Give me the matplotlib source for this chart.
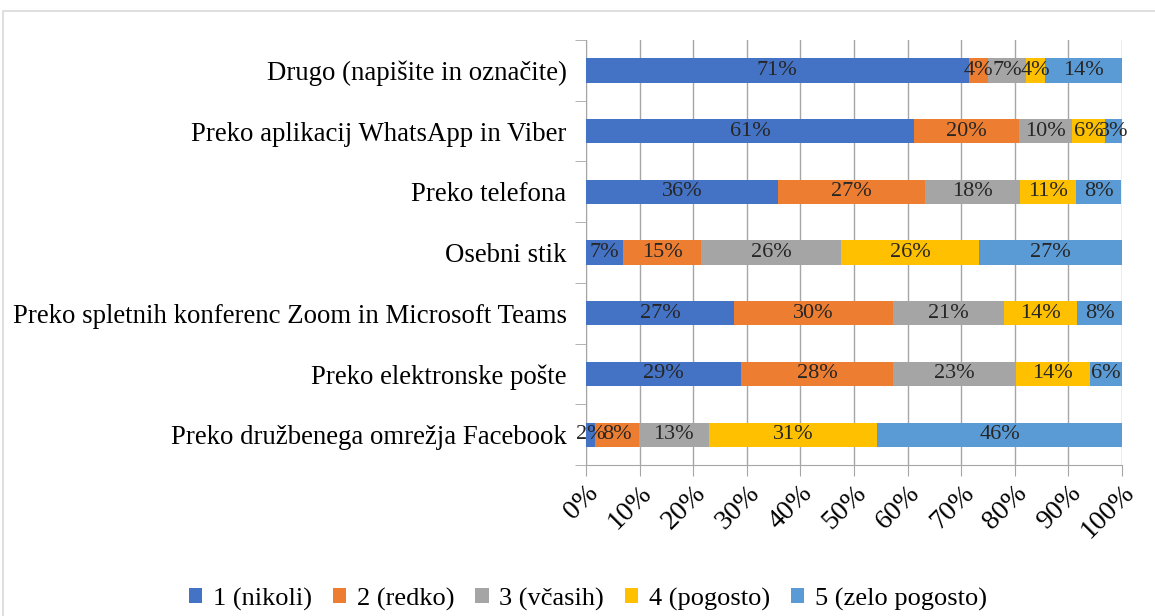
import numpy as np
import matplotlib
matplotlib.use("Agg")
import matplotlib.pyplot as plt
from matplotlib.patches import Rectangle

# categories from bottom to top
categories = [
    "Preko družbenega omrežja Facebook",
    "Preko elektronske pošte",
    "Preko spletnih konferenc Zoom in Microsoft Teams",
    "Osebni stik",
    "Preko telefona",
    "Preko aplikacij WhatsApp in Viber",
    "Drugo (napišite in označite)",
]
series = ["1 (nikoli)", "2 (redko)", "3 (včasih)", "4 (pogosto)", "5 (zelo pogosto)"]

# shares in %
nikoli = [1.7, 28.9, 27.6, 6.9, 35.8, 61.2, 71.4]
redko = [8.2, 28.4, 29.7, 14.6, 27.4, 19.6, 3.6]
vcasih = [13.0, 22.9, 20.7, 26.1, 17.7, 9.9, 7.1]
pogosto = [31.4, 13.8, 13.6, 25.8, 10.6, 6.1, 3.6]
zelo = [45.7, 6.0, 8.4, 26.6, 8.4, 3.2, 14.3]
labels = [
    ["2%", "29%", "27%", "7%", "36%", "61%", "71%"],
    ["8%", "28%", "30%", "15%", "27%", "20%", "4%"],
    ["13%", "23%", "21%", "26%", "18%", "10%", "7%"],
    ["31%", "14%", "14%", "26%", "11%", "6%", "4%"],
    ["46%", "6%", "8%", "27%", "8%", "3%", "14%"],
]
colors = ["#4472C4", "#ED7D31", "#A5A5A5", "#FFC000", "#5B9BD5"]

serif = "Liberation Serif"
grid_col = "#A6A6A6"

fig = plt.figure(figsize=(11.55, 6.16), dpi=100)
fig.patches.append(Rectangle((3 / 1155, -0.1), 1.2, 1 - 11 / 616 + 0.1, transform=fig.transFigure,
                             fill=False, edgecolor="#D9D9D9", lw=1.2))
ax = fig.add_axes([586 / 1155, 1 - 465 / 616, 536 / 1155, 425 / 616])

y = np.arange(len(categories))
left = np.zeros(len(categories))
for vals, name, col, labs in zip([nikoli, redko, vcasih, pogosto, zelo], series, colors, labels):
    vals = np.array(vals)
    bars = ax.barh(y, vals, left=left, height=0.4, color=col, label=name, zorder=3)
    for b, t in zip(bars, labs):
        ax.text(b.get_x() + b.get_width() / 2, b.get_y() + b.get_height() / 2, t,
                ha="center", va="center", fontsize=16, family=serif, color="#262626", zorder=4)
    left += vals

ax.set_xlim(0, 100)
ax.set_ylim(-0.5, len(categories) - 0.5)
ax.set_xticks(np.arange(0, 101, 10))
ax.set_xticklabels([f"{v}%" for v in range(0, 101, 10)], rotation=45, ha="right",
                   rotation_mode="anchor", family=serif, fontsize=20)
ax.set_yticks(y)
ax.set_yticklabels(categories, family=serif, fontsize=19.3)
ax.set_yticks(np.arange(-0.5, len(categories), 1), minor=True)
ax.tick_params(axis="y", which="major", length=0, pad=14)
ax.tick_params(axis="y", which="minor", length=8, color=grid_col)
ax.tick_params(axis="x", length=8, color=grid_col, pad=3)
ax.grid(axis="x", color=grid_col, lw=1, zorder=0)
for s in ["top", "right"]:
    ax.spines[s].set_visible(False)
ax.spines["left"].set_color(grid_col)
ax.spines["bottom"].set_color(grid_col)

fig.legend(loc="center", bbox_to_anchor=(588 / 1155, 1 - 599 / 616), ncol=5, frameon=False,
           prop={"family": serif, "size": 19},
           handlelength=0.5, handleheight=0.5, handletextpad=0.4, columnspacing=0.8)

fig.savefig("out.png", dpi=100)
